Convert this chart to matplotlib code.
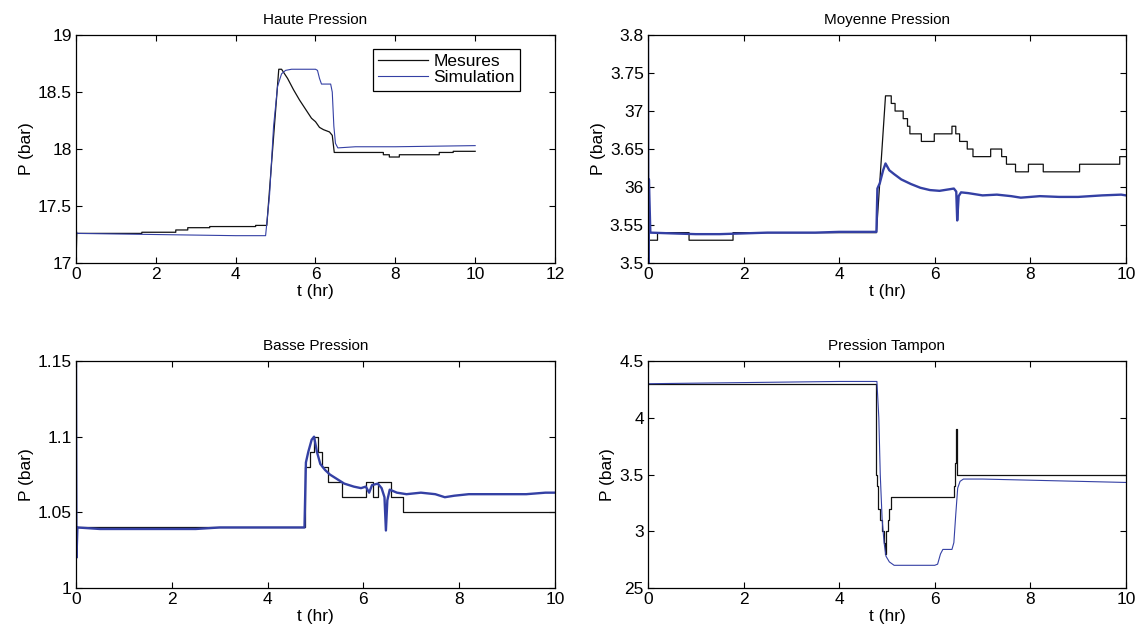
import numpy as np
import matplotlib
matplotlib.use("Agg")
import matplotlib.pyplot as plt

plt.rcParams['font.family'] = ['Liberation Sans', 'DejaVu Sans']
plt.rcParams['font.size'] = 12

BLACK = '#111111'
BLUE = '#3440a4'

# ---- Haute Pression ----
hp_mes_t = [0, 0.02, 1.65, 1.65, 2.5, 2.5, 2.8, 2.8, 3.35, 3.35, 4.5, 4.5, 4.78,
            5.08, 5.15, 5.3, 5.45, 5.6, 5.75, 5.9, 6.0, 6.1, 6.2, 6.35, 6.42, 6.47,
            7.7, 7.7, 7.85, 7.85, 8.1, 8.1, 9.1, 9.1, 9.45, 9.45, 10.0]
hp_mes_v = [17.0, 17.26, 17.26, 17.27, 17.27, 17.29, 17.29, 17.31, 17.31, 17.32, 17.32, 17.33, 17.33,
            18.70, 18.70, 18.62, 18.52, 18.43, 18.35, 18.27, 18.24, 18.19, 18.17, 18.15, 18.12, 17.97,
            17.97, 17.95, 17.95, 17.93, 17.93, 17.95, 17.95, 17.97, 17.97, 17.98, 17.98]
hp_sim_t = [0, 0.03, 1.0, 2.0, 3.0, 4.0, 4.75, 4.85, 4.95, 5.05, 5.15, 5.25, 5.4,
            6.0, 6.05, 6.1, 6.15, 6.38, 6.42, 6.46, 6.5, 6.56, 7.0, 8.0, 9.0, 10.0]
hp_sim_v = [17.29, 17.26, 17.255, 17.25, 17.245, 17.24, 17.24, 17.6, 18.2, 18.55, 18.66, 18.69, 18.70,
            18.70, 18.69, 18.62, 18.57, 18.57, 18.5, 18.2, 18.05, 18.01, 18.02, 18.02, 18.025, 18.03]

# ---- Moyenne Pression ----
mp_mes_t = [0, 0.2, 0.2, 0.86, 0.86, 1.78, 1.78, 4.78, 4.97, 5.09, 5.09, 5.17, 5.17, 5.34,
            5.34, 5.43, 5.43, 5.48, 5.48, 5.72, 5.72, 5.99, 5.99, 6.36, 6.36, 6.44, 6.44,
            6.52, 6.52, 6.68, 6.68, 6.80, 6.80, 7.17, 7.17, 7.40, 7.40, 7.50, 7.50, 7.69,
            7.69, 7.96, 7.96, 8.27, 8.27, 9.03, 9.03, 9.87, 9.87, 10.0]
mp_mes_v = [3.53, 3.53, 3.54, 3.54, 3.53, 3.53, 3.54, 3.54, 3.72, 3.72, 3.71, 3.71, 3.70, 3.70,
            3.69, 3.69, 3.68, 3.68, 3.67, 3.67, 3.66, 3.66, 3.67, 3.67, 3.68, 3.68, 3.67,
            3.67, 3.66, 3.66, 3.65, 3.65, 3.64, 3.64, 3.65, 3.65, 3.64, 3.64, 3.63, 3.63,
            3.62, 3.62, 3.63, 3.63, 3.62, 3.62, 3.63, 3.63, 3.64, 3.64]
mp_sim_t = [0, 0.01, 0.02, 0.05, 0.5, 1.0, 1.5, 2.0, 2.5, 3.0, 3.5, 4.0, 4.5, 4.78,
            4.80, 4.85, 4.92, 4.97, 5.05, 5.15, 5.3, 5.5, 5.7, 5.9, 6.1, 6.3, 6.4, 6.45,
            6.47, 6.50, 6.55, 6.7, 7.0, 7.3, 7.6, 7.8, 8.2, 8.6, 9.0, 9.5, 9.9, 10.0]
mp_sim_v = [3.80, 3.50, 3.61, 3.54, 3.539, 3.538, 3.538, 3.539, 3.540, 3.540, 3.540, 3.541, 3.541, 3.541,
            3.598, 3.605, 3.622, 3.631, 3.622, 3.617, 3.610, 3.604, 3.599, 3.596, 3.595, 3.597, 3.598, 3.594,
            3.556, 3.588, 3.593, 3.592, 3.589, 3.590, 3.588, 3.586, 3.588, 3.587, 3.587, 3.589, 3.590, 3.589]

# ---- Basse Pression ----
bp_mes_t = [0, 4.79, 4.79, 4.88, 4.88, 4.96, 4.96, 5.05, 5.05, 5.13, 5.13, 5.26, 5.26,
            5.55, 5.55, 6.06, 6.06, 6.21, 6.21, 6.30, 6.30, 6.57, 6.57, 6.83, 6.83, 10.0]
bp_mes_v = [1.04, 1.04, 1.08, 1.08, 1.09, 1.09, 1.10, 1.10, 1.09, 1.09, 1.08, 1.08, 1.07,
            1.07, 1.06, 1.06, 1.07, 1.07, 1.06, 1.06, 1.07, 1.07, 1.06, 1.06, 1.05, 1.05]
bp_sim_t = [0, 0.01, 0.03, 0.5, 1.0, 1.5, 2.0, 2.5, 3.0, 3.5, 4.0, 4.5, 4.77, 4.80, 4.85,
            4.92, 4.97, 5.03, 5.10, 5.2, 5.3, 5.45, 5.6, 5.8, 5.95, 6.05, 6.12, 6.18, 6.3,
            6.38, 6.44, 6.47, 6.50, 6.55, 6.7, 6.9, 7.2, 7.5, 7.7, 7.9, 8.2, 8.6, 9.0, 9.4, 9.8, 10.0]
bp_sim_v = [1.15, 1.02, 1.04, 1.039, 1.039, 1.039, 1.039, 1.039, 1.040, 1.040, 1.040, 1.040, 1.040, 1.083, 1.090,
            1.098, 1.100, 1.090, 1.082, 1.078, 1.075, 1.072, 1.069, 1.067, 1.066, 1.067, 1.063, 1.068, 1.069,
            1.066, 1.060, 1.038, 1.058, 1.065, 1.063, 1.062, 1.063, 1.062, 1.060, 1.061, 1.062, 1.062, 1.062, 1.062, 1.063, 1.063]

# ---- Pression Tampon ----
pt_mes_t = [0, 4.77, 4.77, 4.79, 4.79, 4.82, 4.82, 4.86, 4.86, 4.90, 4.90, 4.93, 4.93, 4.95,
            4.95, 4.97, 4.97, 4.99, 4.99, 5.02, 5.02, 5.05, 5.05, 5.08, 5.08, 6.40, 6.40,
            6.42, 6.42, 6.44, 6.44, 6.46, 6.46, 10.0]
pt_mes_v = [4.30, 4.30, 3.50, 3.50, 3.40, 3.40, 3.20, 3.20, 3.10, 3.10, 3.00, 3.00, 2.90, 2.90,
            2.80, 2.80, 2.90, 2.90, 3.00, 3.00, 3.10, 3.10, 3.20, 3.20, 3.30, 3.30, 3.40,
            3.40, 3.60, 3.60, 3.90, 3.90, 3.50, 3.50]
pt_sim_t = [0, 1.0, 2.0, 3.0, 4.0, 4.79, 4.83, 4.86, 4.90, 4.94, 4.98, 5.05, 5.15, 5.5,
            6.0, 6.06, 6.12, 6.17, 6.36, 6.40, 6.44, 6.48, 6.53, 6.6, 7.0, 8.0, 9.0, 10.0]
pt_sim_v = [4.30, 4.305, 4.31, 4.315, 4.32, 4.32, 4.0, 3.5, 3.1, 2.9, 2.78, 2.73, 2.70, 2.70,
            2.70, 2.71, 2.80, 2.84, 2.84, 2.90, 3.15, 3.38, 3.44, 3.46, 3.46, 3.45, 3.44, 3.43]

titles = ['Haute Pression', 'Moyenne Pression', 'Basse Pression', 'Pression Tampon']
legend_labels = ['Mesures', 'Simulation']

fig = plt.figure(figsize=(11.46, 6.27), dpi=100)
positions = [
    [0.0663, 0.5805, 0.418, 0.3636],
    [0.5654, 0.5805, 0.4171, 0.3636],
    [0.0663, 0.0622, 0.418, 0.362],
    [0.5654, 0.0622, 0.4171, 0.362],
]
axes = [fig.add_axes(p) for p in positions]

series = [
    (hp_mes_t, hp_mes_v, hp_sim_t, hp_sim_v, 0.8),
    (mp_mes_t, mp_mes_v, mp_sim_t, mp_sim_v, 1.7),
    (bp_mes_t, bp_mes_v, bp_sim_t, bp_sim_v, 1.7),
    (pt_mes_t, pt_mes_v, pt_sim_t, pt_sim_v, 0.8),
]

for ax, title, (mt, mv, st, sv, lw) in zip(axes, titles, series):
    ax.plot(mt, mv, color=BLACK, lw=0.9, label=legend_labels[0])
    ax.plot(st, sv, color=BLUE, lw=lw, label=legend_labels[1])
    ax.set_title(title, fontsize=11, pad=8)
    ax.set_xlabel('t (hr)', fontsize=12.5, labelpad=1)
    ax.set_ylabel('P (bar)', fontsize=12.5, labelpad=3)
    ax.tick_params(direction='in', top=True, right=True, length=4, width=0.8,
                   labelsize=12.5, pad=3)
    for s in ax.spines.values():
        s.set_linewidth(0.9)

# axis limits and ticks
axes[0].set_xlim(0, 12)
axes[0].set_xticks([0, 2, 4, 6, 8, 10, 12])
axes[0].set_ylim(17, 19)
axes[0].set_yticks([17, 17.5, 18, 18.5, 19])
axes[0].set_yticklabels(['17', '17.5', '18', '18.5', '19'])

axes[1].set_xlim(0, 10)
axes[1].set_ylim(3.5, 3.8)
axes[1].set_yticks([3.5, 3.55, 3.6, 3.65, 3.7, 3.75, 3.8])
axes[1].set_yticklabels(['3.5', '3.55', '36', '3.65', '37', '3.75', '3.8'])

axes[2].set_xlim(0, 10)
axes[2].set_ylim(1.0, 1.15)
axes[2].set_yticks([1.0, 1.05, 1.1, 1.15])
axes[2].set_yticklabels(['1', '1.05', '1.1', '1.15'])

axes[3].set_xlim(0, 10)
axes[3].set_ylim(2.5, 4.5)
axes[3].set_yticks([2.5, 3, 3.5, 4, 4.5])
axes[3].set_yticklabels(['25', '3', '3.5', '4', '4.5'])

for ax in axes[1:]:
    ax.set_xticks([0, 2, 4, 6, 8, 10])

leg = axes[0].legend(loc='upper right', bbox_to_anchor=(0.927, 0.939), borderaxespad=0,
                     fancybox=False, framealpha=1, edgecolor='black', fontsize=12.5,
                     handlelength=2.9, labelspacing=0.05, borderpad=0.3, handletextpad=0.3)
leg.get_frame().set_linewidth(0.9)

fig.savefig('out.png', dpi=100)
